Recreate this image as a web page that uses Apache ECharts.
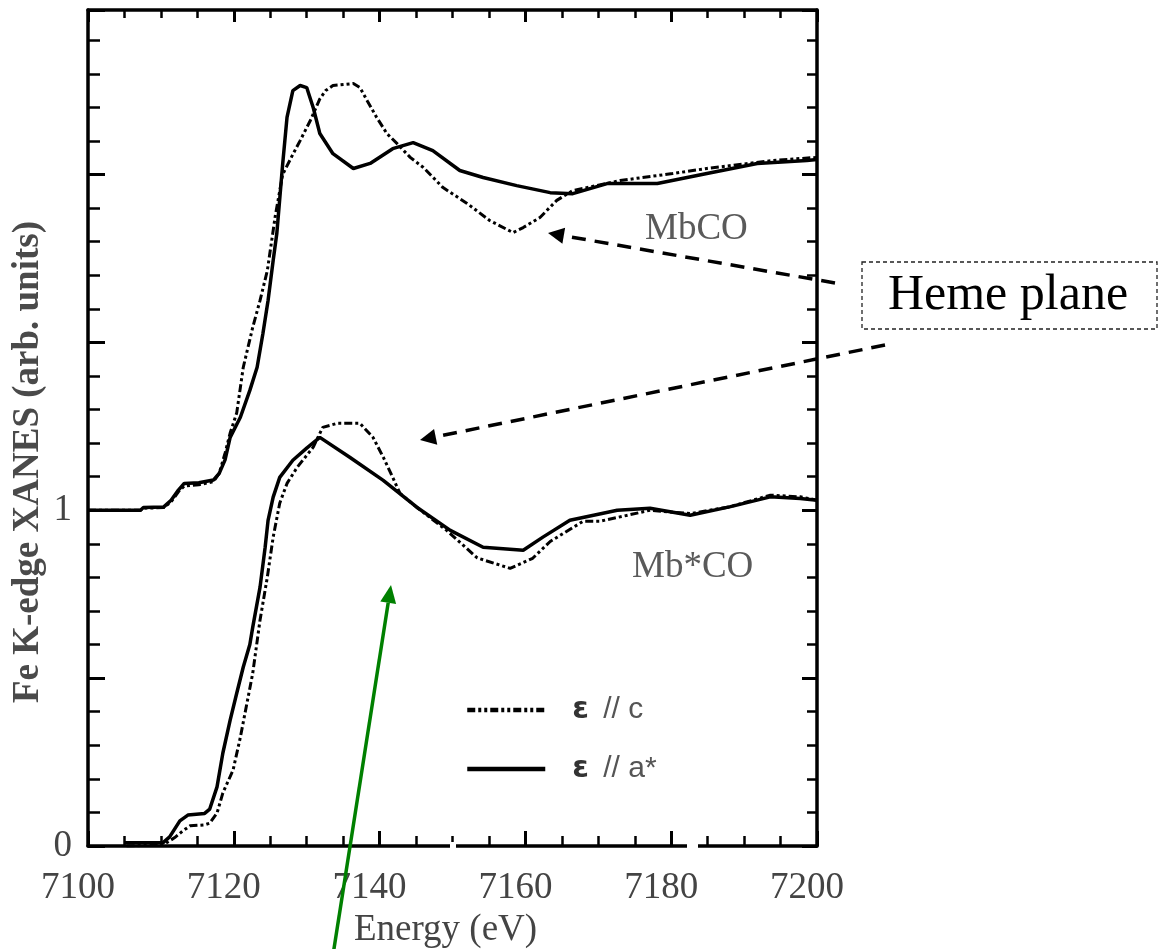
<!DOCTYPE html>
<html><head><meta charset="utf-8">
<script src="https://cdn.jsdelivr.net/npm/echarts@6/dist/echarts.min.js"></script>
<style>html,body{margin:0;padding:0;background:#fff}#c{width:1162px;height:949px}</style>
</head><body><div id="c"></div>
<script>
// ---- data (energy in eV, normalized absorption; MbCO offset by +1) ----
const mbcoParC = [[7100,1.0],[7107.2,1.0],[7107.6,1.006],[7110.4,1.008],[7111.4,1.025],[7112.4,1.055],[7113.2,1.072],[7115.2,1.076],[7117.2,1.085],[7118,1.11],[7118.8,1.17],[7119.5,1.23],[7120.4,1.29],[7121.3,1.426],[7122.6,1.545],[7123.6,1.625],[7124.6,1.714],[7125.7,1.878],[7126.7,2.0],[7128.1,2.06],[7129.1,2.101],[7130.5,2.161],[7131.8,2.225],[7132.6,2.25],[7133.6,2.265],[7136.4,2.271],[7137.3,2.259],[7138.3,2.22],[7139.6,2.17],[7141,2.122],[7142.4,2.092],[7144.2,2.051],[7146,2.021],[7148.7,1.961],[7152,1.914],[7155.1,1.863],[7158.3,1.827],[7159.7,1.842],[7162,1.872],[7164.3,1.923],[7166.5,1.952],[7173,1.982],[7180.2,2.003],[7184.9,2.018],[7194,2.042],[7200,2.051]];
const mbcoParA = [[7100,1.0],[7107.2,1.0],[7107.6,1.008],[7110.4,1.01],[7111.4,1.03],[7112.4,1.06],[7113.2,1.08],[7115.2,1.082],[7117.2,1.09],[7118,1.11],[7118.8,1.15],[7119.5,1.217],[7120.9,1.277],[7122.2,1.357],[7123.2,1.426],[7124,1.527],[7124.7,1.625],[7125.4,1.744],[7125.9,1.824],[7126.7,2.03],[7127.3,2.17],[7128.1,2.25],[7129.1,2.265],[7130,2.259],[7130.9,2.199],[7131.8,2.122],[7133.6,2.062],[7136.4,2.018],[7138.7,2.033],[7141.8,2.077],[7144.6,2.095],[7147.3,2.071],[7151,2.012],[7154.2,1.991],[7158.8,1.967],[7163.4,1.946],[7166.5,1.943],[7171.2,1.973],[7178.1,1.973],[7184.9,2.003],[7191.8,2.033],[7198.6,2.042],[7200,2.045]];
const mbstarParC = [[7105.3,0.0],[7110.3,0.003],[7111.9,0.025],[7113,0.045],[7114,0.06],[7116,0.063],[7116.7,0.068],[7117.7,0.098],[7118.5,0.158],[7119.9,0.226],[7120.9,0.324],[7121.8,0.425],[7122.6,0.515],[7123.6,0.673],[7124.6,0.801],[7125.4,0.92],[7126.3,1.021],[7127.3,1.08],[7128.7,1.128],[7130.9,1.188],[7132.2,1.247],[7134.2,1.259],[7137.3,1.259],[7139.1,1.217],[7140.5,1.158],[7141.8,1.098],[7142.8,1.05],[7145.1,1.009],[7149.2,0.94],[7153.4,0.858],[7157.9,0.827],[7161,0.857],[7163.4,0.907],[7167.9,0.967],[7170.2,0.967],[7177.1,1.0],[7182.6,0.99],[7188,1.01],[7193.6,1.045],[7197.7,1.04],[7200,1.03]];
const mbstarParA = [[7105,0.01],[7110.3,0.01],[7111.2,0.027],[7112.6,0.075],[7113.7,0.092],[7116,0.097],[7116.7,0.11],[7117.7,0.176],[7118.5,0.277],[7119.5,0.375],[7120.4,0.455],[7121.3,0.533],[7122.2,0.6],[7122.6,0.652],[7123.6,0.771],[7124.3,0.89],[7124.7,0.97],[7125.4,1.039],[7126.3,1.098],[7128.1,1.149],[7130,1.185],[7131.8,1.217],[7135.9,1.158],[7140.5,1.089],[7145.1,1.009],[7149.7,0.94],[7154.2,0.89],[7159.7,0.881],[7162.4,0.92],[7166.1,0.97],[7172.6,1.0],[7177.1,1.006],[7182.6,0.985],[7188,1.01],[7193.6,1.04],[7197.7,1.035],[7200,1.03]];
const seriesNames = ['ε // c', 'ε // a*'];
const yLabelValues = [0, 1];
const xRange = [7100, 7200];
const yRange = [0, 2.49];

// ---- styling ----
const SERIF = '"Liberation Serif","Times New Roman",serif';
const SANS = '"Liberation Sans",Arial,sans-serif';
const dotDash = [8, 3, 3, 3, 3, 3];

function arrowHead(s, t, len, half) {
  const dx = t[0] - s[0], dy = t[1] - s[1];
  const L = Math.sqrt(dx*dx + dy*dy);
  const ux = dx / L, uy = dy / L;
  const bx = t[0] - ux*len, by = t[1] - uy*len;
  return { base: [bx, by], pts: [t, [bx - uy*half, by + ux*half], [bx + uy*half, by - ux*half]] };
}
function arrow(s, t, color, dash, len, half) {
  const h = arrowHead(s, t, len, half);
  return [
    { type: 'line', z: 50, shape: { x1: s[0], y1: s[1], x2: h.base[0], y2: h.base[1] },
      style: { stroke: color, lineWidth: 3.5, lineDash: dash } },
    { type: 'polygon', z: 50, shape: { points: h.pts }, style: { fill: color } }
  ];
}

const chart = echarts.init(document.getElementById('c'));
const baseX = (pos, tickLen, minorLen, labels) => ({
  type: 'value', min: xRange[0], max: xRange[1], interval: 20, position: pos,
  axisLine: { show: true, onZero: false, lineStyle: { color: '#000', width: 3.5 } },
  axisTick: { show: true, inside: true, length: tickLen, lineStyle: { color: '#000', width: 3 } },
  minorTick: { show: true, splitNumber: 4, length: minorLen, lineStyle: { color: '#000', width: 2.5 } },
  splitLine: { show: false }, minorSplitLine: { show: false },
  axisLabel: labels ? { show: true, fontFamily: SERIF, fontSize: 37, color: '#444', margin: 24, padding: [0, 20, 0, 0],
    formatter: v => String(v) } : { show: false }
});
const baseY = (pos, tickLen, minorLen, labels) => ({
  type: 'value', min: yRange[0], max: yRange[1], interval: 0.5, position: pos,
  axisLine: { show: true, onZero: false, lineStyle: { color: '#000', width: 3.5 } },
  axisTick: { show: true, inside: true, length: tickLen, lineStyle: { color: '#000', width: 3 } },
  minorTick: { show: true, splitNumber: 5, length: minorLen, lineStyle: { color: '#000', width: 2.5 } },
  splitLine: { show: false }, minorSplitLine: { show: false },
  axisLabel: labels ? { show: true, fontFamily: SERIF, fontSize: 37, color: '#444', margin: 16,
    formatter: v => (yLabelValues.indexOf(v) >= 0 ? String(v) : '') } : { show: false }
});

const xa = baseX('bottom', 15, 10, true);
xa.name = 'Energy (eV)'; xa.nameLocation = 'middle'; xa.nameGap = 60;
xa.nameTextStyle = { fontFamily: SERIF, fontSize: 37, color: '#444', padding: [0, 14, 0, 0] };

const lineSeries = (name, data, dashed) => ({
  name, type: 'line', data, xAxisIndex: 0, yAxisIndex: 0, showSymbol: false, symbol: 'none',
  lineStyle: { color: '#000', width: dashed ? 3 : 3.5, type: dashed ? dotDash : 'solid' },
  itemStyle: { color: '#000' }, z: dashed ? 2 : 3
});

chart.setOption({
  animation: false,
  backgroundColor: '#fff',
  grid: { left: 88, top: 10, width: 729, height: 836, containLabel: false, outerBoundsMode: 'none' },
  xAxis: [xa, baseX('top', 12, 8, false)],
  yAxis: [baseY('left', 17, 12, true), baseY('right', 15, 10, false)],
  legend: {
    data: seriesNames, orient: 'vertical', left: 460, top: 690,
    itemWidth: 78, itemHeight: 22, itemGap: 29,
    lineStyle: { width: 4.5 },
    itemStyle: { color: 'rgba(0,0,0,0)', borderWidth: 0, opacity: 0 },
    textStyle: { fontFamily: SANS, fontSize: 30, color: '#555',
      rich: { e: { fontFamily: '"DejaVu Sans",sans-serif', fontWeight: 'bold', fontSize: 30, color: '#333', padding: [0, 6, 0, 22] } } },
    formatter: n => '{e|' + n.charAt(0) + '}' + n.slice(1)
  },
  series: [
    lineSeries(seriesNames[0], mbcoParC, true),
    lineSeries(seriesNames[1], mbcoParA, false),
    lineSeries(seriesNames[0], mbstarParC, true),
    lineSeries(seriesNames[1], mbstarParA, false)
  ],
  graphic: [
    { type: 'text', z: 60, x: 28, y: 462, rotation: Math.PI / 2,
      style: { text: 'Fe K-edge XANES (arb. units)', font: 'bold 37px ' + SERIF, fill: '#4a4a4a', align: 'center', verticalAlign: 'middle' } },
    { type: 'text', z: 60, x: 645, y: 229, style: { text: 'MbCO', font: '37px ' + SERIF, fill: '#5a5a5a', align: 'left', verticalAlign: 'middle' } },
    { type: 'text', z: 60, x: 632, y: 567, style: { text: 'Mb*CO', font: '37px ' + SERIF, fill: '#5a5a5a', align: 'left', verticalAlign: 'middle' } },
    { type: 'rect', z: 60, shape: { x: 862, y: 262, width: 295, height: 67 }, style: { fill: 'none', stroke: '#222', lineWidth: 1.3, lineDash: [4, 3] } },
    { type: 'text', z: 60, x: 1008, y: 296, style: { text: 'Heme plane', font: '50px ' + SERIF, fill: '#000', align: 'center', verticalAlign: 'middle' } },
    { type: 'rect', z: 70, shape: { x: 450, y: 842, width: 6, height: 8 }, style: { fill: '#fff' } },
    { type: 'rect', z: 70, shape: { x: 687, y: 842, width: 11, height: 8 }, style: { fill: '#fff' } },
    ...arrow([835, 283], [548, 233], '#000', [14, 9], 16, 8),
    ...arrow([885, 345], [420, 440], '#000', [14, 9], 16, 8),
    ...arrow([333, 955], [391, 585], '#008000', null, 18, 8)
  ]
});
</script>
</body></html>
